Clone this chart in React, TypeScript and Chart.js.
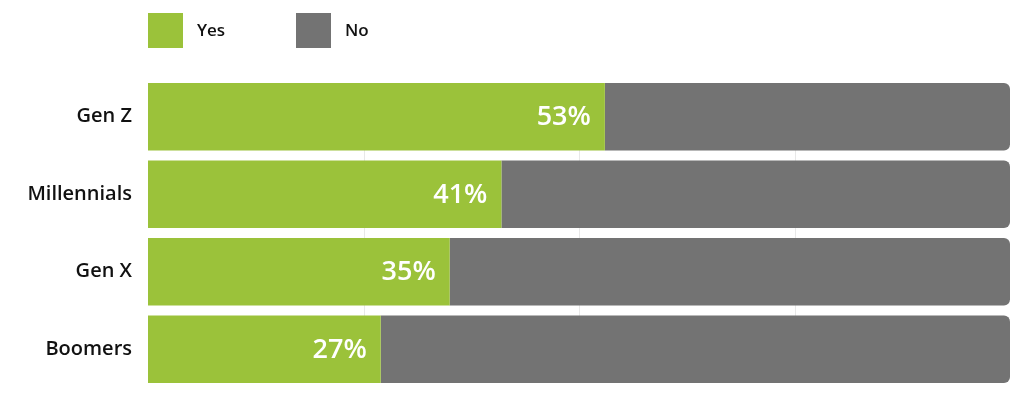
import React, { useEffect, useRef } from "react";
import { Chart, registerables } from "chart.js";

Chart.register(...registerables);

const categories = ["Gen Z", "Millennials", "Gen X", "Boomers"];
const yesValues = [53, 41, 35, 27];
const noValues = [47, 59, 65, 73];
const seriesNames = ["Yes", "No"];
const gridValues = [25, 50, 75];

const GREEN = "#9bc23a";
const GRAY = "#737373";
const FONT = "'Open Sans', sans-serif";

const gridPlugin = {
  id: "xGrid",
  beforeDatasetsDraw(chart: any) {
    const ctx = chart.ctx;
    const xs = chart.scales.x;
    const bars = chart.getDatasetMeta(0).data;
    if (!bars.length) return;
    const first = bars[0];
    const last = bars[bars.length - 1];
    const top = first.y - first.height / 2;
    const bottom = last.y + last.height / 2;
    ctx.save();
    ctx.strokeStyle = "#e8e8e8";
    ctx.lineWidth = 1;
    gridValues.forEach((v) => {
      const x = Math.round(xs.getPixelForValue(v)) + 0.5;
      ctx.beginPath();
      ctx.moveTo(x, top);
      ctx.lineTo(x, bottom);
      ctx.stroke();
    });
    ctx.restore();
  },
};

const labelPlugin = {
  id: "yesLabels",
  afterDatasetsDraw(chart: any) {
    const ctx = chart.ctx;
    const meta = chart.getDatasetMeta(0);
    ctx.save();
    ctx.fillStyle = "#ffffff";
    ctx.font = `600 27px ${FONT}`;
    ctx.textAlign = "right";
    ctx.textBaseline = "middle";
    meta.data.forEach((bar: any, i: number) => {
      ctx.fillText(`${yesValues[i]}%`, bar.x - 14, bar.y + 1);
    });
    ctx.restore();
  },
};

const legendPlugin = {
  id: "customLegend",
  afterDraw(chart: any) {
    const ctx = chart.ctx;
    const items = [
      { x: 148, color: GREEN, text: seriesNames[0] },
      { x: 296, color: GRAY, text: seriesNames[1] },
    ];
    ctx.save();
    ctx.font = `600 17px ${FONT}`;
    ctx.textBaseline = "middle";
    ctx.textAlign = "left";
    items.forEach((it) => {
      ctx.fillStyle = it.color;
      ctx.fillRect(it.x, 13, 35, 35);
      ctx.fillStyle = "#111111";
      ctx.fillText(it.text, it.x + 49, 31);
    });
    ctx.restore();
  },
};

export default function App() {
  const ref = useRef<HTMLCanvasElement | null>(null);
  useEffect(() => {
    document.body.style.margin = "0";
    if (!ref.current) return;
    const chart = new Chart(ref.current, {
      type: "bar",
      data: {
        labels: categories,
        datasets: [
          {
            label: seriesNames[0],
            data: yesValues,
            backgroundColor: GREEN,
            borderSkipped: false,
            borderRadius: 0,
            barPercentage: 0.87,
            categoryPercentage: 1,
          },
          {
            label: seriesNames[1],
            data: noValues,
            backgroundColor: GRAY,
            borderSkipped: false,
            borderRadius: { topLeft: 0, bottomLeft: 0, topRight: 6, bottomRight: 6 },
            barPercentage: 0.87,
            categoryPercentage: 1,
          },
        ],
      },
      options: {
        indexAxis: "y",
        responsive: false,
        animation: false,
        layout: { padding: { top: 78, bottom: 6, left: 0, right: 14 } },
        plugins: {
          legend: { display: false },
          tooltip: { enabled: false },
        },
        scales: {
          x: {
            display: false,
            stacked: true,
            min: 0,
            max: 100,
          },
          y: {
            stacked: true,
            grid: { display: false },
            border: { display: false },
            ticks: {
              color: "#111111",
              padding: 8,
              font: { family: FONT, size: 20, weight: "600" },
            },
            afterFit(scale: any) {
              scale.width = 148;
              scale.paddingTop = 0;
              scale.paddingBottom = 0;
            },
          },
        },
      },
      plugins: [gridPlugin, labelPlugin, legendPlugin],
    } as any);
    return () => chart.destroy();
  }, []);
  return (
    <div style={{ width: 1024, height: 394, background: "#fff" }}>
      <canvas ref={ref} width={1024} height={394} />
    </div>
  );
}
